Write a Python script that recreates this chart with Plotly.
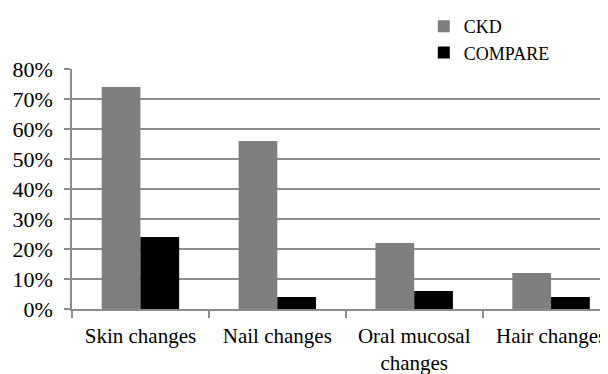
import plotly.graph_objects as go

categories = ["Skin changes", "Nail changes", "Oral mucosal<br>changes", "Hair changes"]
ckd = [0.74, 0.56, 0.22, 0.12]
compare = [0.24, 0.04, 0.06, 0.04]
y_ticks = [0, 0.1, 0.2, 0.3, 0.4, 0.5, 0.6, 0.7, 0.8]
y_tick_labels = ["0%", "10%", "20%", "30%", "40%", "50%", "60%", "70%", "80%"]

font_family = "Liberation Serif, Times New Roman, serif"
grid_col = "#8c8c8c"

fig = go.Figure()
fig.add_trace(go.Bar(x=categories, y=ckd, name="CKD", marker=dict(color="#7f7f7f", line=dict(width=0))))
fig.add_trace(go.Bar(x=categories, y=compare, name="COMPARE", marker=dict(color="#000000", line=dict(width=0))))

# page body adds an 8px offset, so the figure is 600x366 and positions are shifted by 8px
fig.update_layout(
    width=600, height=366,
    margin=dict(l=63.5, r=0, t=61, b=65, autoexpand=False),
    paper_bgcolor="white", plot_bgcolor="white",
    barmode="group", bargap=0.434, bargroupgap=0,
    font=dict(family=font_family, size=21, color="black"),
    showlegend=True,
    legend=dict(xref="container", yref="container", x=0.693, y=1.0, xanchor="left", yanchor="top",
                font=dict(size=18, family=font_family), bgcolor="rgba(0,0,0,0)",
                itemwidth=30, tracegroupgap=0, borderwidth=0),
    xaxis=dict(range=[-0.5, 3.416], showline=True, linecolor=grid_col, linewidth=1.5,
               ticks="outside", tickson="boundaries", ticklen=7, tickcolor=grid_col, tickwidth=1.5,
               showgrid=False, tickfont=dict(size=21), fixedrange=True, automargin=False,
               ticklabelstandoff=7),
    yaxis=dict(range=[0, 0.8], tickvals=y_ticks, ticktext=y_tick_labels,
               showline=True, linecolor=grid_col, linewidth=1.5,
               ticks="outside", ticklen=6, tickcolor=grid_col, tickwidth=1.5,
               showgrid=True, gridcolor=grid_col, gridwidth=1.5, zeroline=False,
               tickfont=dict(size=22), ticklabelstandoff=7, automargin=False),
)

fig.write_html("out.html")
